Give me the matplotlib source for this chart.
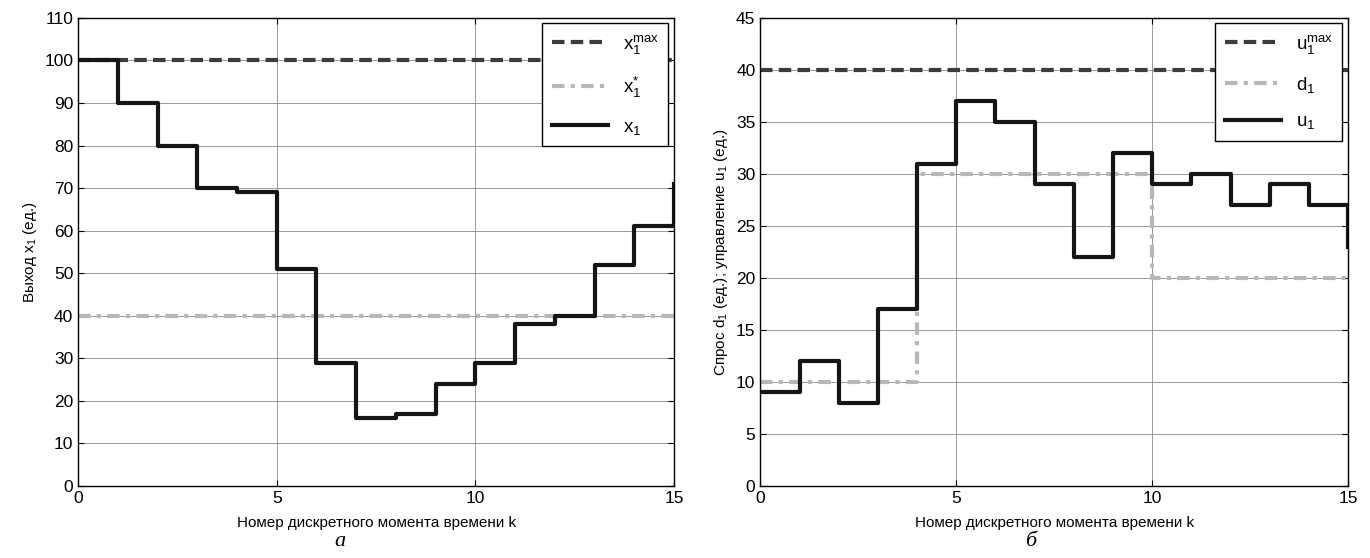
import numpy as np
from matplotlib import pyplot as plt

plt.rcParams['font.family'] = ['Liberation Sans', 'DejaVu Sans']
plt.rcParams['mathtext.fontset'] = 'custom'
plt.rcParams['mathtext.rm'] = 'Liberation Sans'
plt.rcParams['mathtext.it'] = 'Liberation Sans'

# time steps
k = np.arange(16)

# panel a: output x1
x1 = [100, 90, 80, 70, 69, 51, 29, 16, 17, 24, 29, 38, 40, 52, 61, 71]
x1_max = 100
x1_star = 40

# panel б: demand d1 and control u1
u1 = [9, 12, 8, 17, 31, 37, 35, 29, 22, 32, 29, 30, 27, 29, 27, 23]
d1 = [10, 10, 10, 10, 30, 30, 30, 30, 30, 30, 20, 20, 20, 20, 20, 20]
u1_max = 40

c_max = '#3c3c3c'
c_ref = '#b8b8b8'
c_main = '#151515'
lw = 3.0


def style_axes(ax, ymax, ystep):
    ax.set_xlim(0, 15)
    ax.set_ylim(0, ymax)
    ax.set_xticks([0, 5, 10, 15])
    ax.set_yticks(np.arange(0, ymax + 1, ystep))
    ax.grid(True, color='#8c8c8c', linewidth=0.6, linestyle='-')
    ax.tick_params(direction='in', top=True, right=True, labelsize=12.5,
                   length=4, width=0.8)
    for s in ax.spines.values():
        s.set_linewidth(1.0)
    ax.set_xlabel('Номер дискретного момента времени k', fontsize=11,
                  labelpad=7)
    leg = ax.legend(loc='upper right', fontsize=13.5, handlelength=3.0,
                    borderaxespad=0.3, fancybox=False, edgecolor='black',
                    framealpha=1, labelspacing=1.0, borderpad=0.5)
    leg.get_frame().set_linewidth(1.0)


fig = plt.figure(figsize=(13.7, 5.58), dpi=100)
ax1 = fig.add_axes([0.057, 0.129, 0.435, 0.839])
ax2 = fig.add_axes([0.555, 0.129, 0.429, 0.839])

ax1.axhline(x1_max, color=c_max, lw=lw, ls=(0, (3, 1.5)),
            label='$\\mathregular{x_1^{max}}$')
ax1.axhline(x1_star, color=c_ref, lw=lw, ls=(0, (3, 1.5, 1, 1.5)),
            label='$\\mathregular{x_1^{*}}$')
ax1.step(k, x1, where='post', color=c_main, lw=lw,
         label='$\\mathregular{x_1}$')
ax1.set_ylabel('Выход $\\mathregular{x_1}$ (ед.)', fontsize=11)
style_axes(ax1, 110, 10)

ax2.axhline(u1_max, color=c_max, lw=lw, ls=(0, (3, 1.5)),
            label='$\\mathregular{u_1^{max}}$')
ax2.step(k, d1, where='post', color=c_ref, lw=lw, ls=(0, (3, 1.5, 1, 1.5)),
         label='$\\mathregular{d_1}$')
ax2.step(k, u1, where='post', color=c_main, lw=lw,
         label='$\\mathregular{u_1}$')
ax2.set_ylabel('Спрос $\\mathregular{d_1}$ (ед.); управление '
               '$\\mathregular{u_1}$ (ед.)', fontsize=11)
style_axes(ax2, 45, 5)

fig.text(0.248, 0.022, 'а', fontsize=16, style='italic',
         family='Liberation Serif', ha='center')
fig.text(0.752, 0.022, 'б', fontsize=16, style='italic',
         family='Liberation Serif', ha='center')

fig.savefig('out.png', dpi=100)
